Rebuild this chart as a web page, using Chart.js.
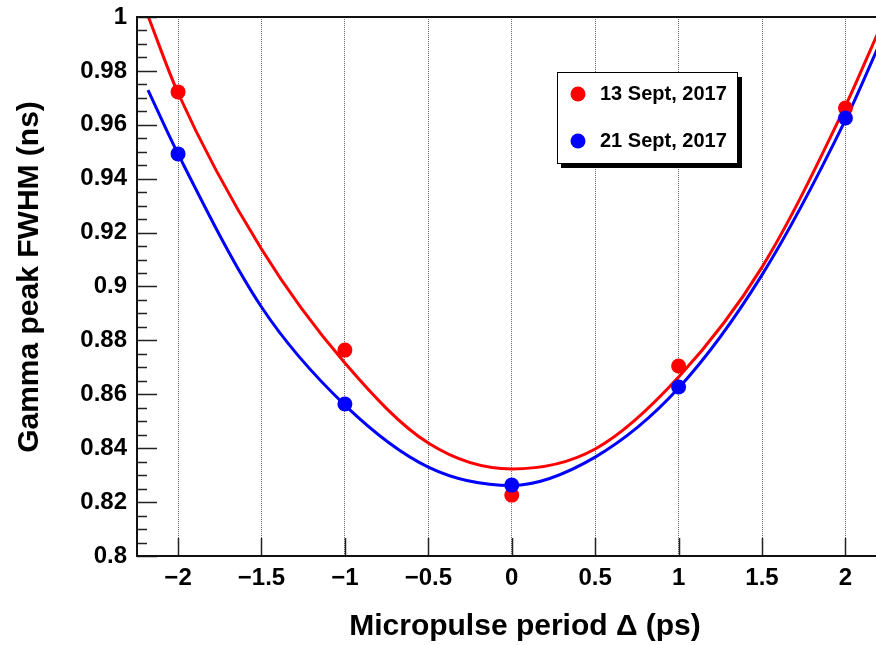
<!DOCTYPE html>
<html>
<head>
<meta charset="utf-8">
<script src="https://cdn.jsdelivr.net/npm/chart.js@4.4.0/dist/chart.umd.min.js"></script>
<style>html,body{margin:0;padding:0;background:#fff;overflow:hidden}</style>
</head>
<body>
<canvas id="grafica" width="876" height="645"></canvas>
<script>
// medidas
const puntosX = [-2, -1, 0, 1, 2];
const rojo13 = [0.9722, 0.8764, 0.8226, 0.8705, 0.9662];
const azul21 = [0.9492, 0.8564, 0.8263, 0.8627, 0.9625];

// curvas de ajuste
const ajusteX = [-2.18, -2, -1.5, -1, -0.5, 0, 0.5, 1, 1.5, 2, 2.19];
const ajusteRojo = [1.0004, 0.9718, 0.9139, 0.8716, 0.8419, 0.8323, 0.8397, 0.8664, 0.9072, 0.9670, 0.9935];
const ajusteAzul = [0.9729, 0.9492, 0.8924, 0.8560, 0.8330, 0.8262, 0.8367, 0.8623, 0.9043, 0.9618, 0.9880];

const etiquetas = ['13 Sept, 2017', '21 Sept, 2017'];
const tituloX = 'Micropulse period \u0394 (ps)';
const tituloY = 'Gamma peak FWHM (ns)';

const FUENTE = "'Liberation Sans', Arial, Helvetica, sans-serif";
const ROJO = '#ff0000';
const AZUL = '#0000ff';

function pares(xs, ys) {
    return xs.map(function (x, i) { return { x: x, y: ys[i] }; });
}

// ticks hacia adentro, marco, titulos y leyenda al estilo ROOT
const estiloRoot = {
    id: 'estiloRoot',
    afterDatasetsDraw(chart) {
        const ctx = chart.ctx;
        const a = chart.chartArea;
        const sx = chart.scales.x, sy = chart.scales.y;
        ctx.save();
        ctx.strokeStyle = '#222';
        ctx.lineWidth = 1.5;
        ctx.beginPath();
        for (let v = 0.8; v <= 1.0001; v += 0.005) {
            const py = Math.round(sy.getPixelForValue(v)) + 0.5;
            const mayor = Math.abs(Math.round(v * 50) - v * 50) < 1e-6;
            ctx.moveTo(a.left, py);
            ctx.lineTo(a.left + (mayor ? 20 : 10), py);
        }
        sx.ticks.forEach(function (t) {
            const px = Math.round(sx.getPixelForValue(t.value)) + 0.5;
            ctx.moveTo(px, a.bottom);
            ctx.lineTo(px, a.bottom - 18);
        });
        ctx.stroke();
        ctx.strokeStyle = '#111';
        ctx.lineWidth = 2;
        ctx.beginPath();
        ctx.moveTo(a.right, a.top);
        ctx.lineTo(a.left, a.top);
        ctx.lineTo(a.left, a.bottom);
        ctx.lineTo(a.right, a.bottom);
        ctx.stroke();
        ctx.restore();
    },
    afterDraw(chart) {
        const ctx = chart.ctx;
        ctx.save();
        ctx.fillStyle = '#000';
        ctx.font = 'bold 30px ' + FUENTE;
        ctx.textAlign = 'center';
        ctx.textBaseline = 'middle';
        ctx.fillText(tituloX, 525, 627);
        ctx.translate(30, 277);
        ctx.rotate(-Math.PI / 2);
        ctx.fillText(tituloY, 0, 0);
        ctx.restore();

        // leyenda
        ctx.save();
        ctx.fillStyle = '#000';
        ctx.fillRect(561, 77, 181, 91);
        ctx.fillStyle = '#fff';
        ctx.fillRect(557, 72, 180, 91);
        ctx.strokeStyle = '#000';
        ctx.lineWidth = 1;
        ctx.strokeRect(557.5, 72.5, 180, 91);
        const colores = [ROJO, AZUL];
        ctx.font = 'bold 20px ' + FUENTE;
        ctx.textAlign = 'left';
        ctx.textBaseline = 'middle';
        etiquetas.forEach(function (txt, i) {
            const y = 94 + i * 47;
            ctx.fillStyle = colores[i];
            ctx.beginPath();
            ctx.arc(578, y, 7.5, 0, Math.PI * 2);
            ctx.fill();
            ctx.fillStyle = '#000';
            ctx.fillText(txt, 600, y);
        });
        ctx.restore();
    }
};

new Chart(document.getElementById('grafica').getContext('2d'), {
    type: 'scatter',
    data: {
        datasets: [
            { label: etiquetas[1], data: pares(puntosX, azul21), backgroundColor: AZUL, borderColor: AZUL,
              pointRadius: 7.5, pointBorderWidth: 0, showLine: false, order: 1 },
            { label: etiquetas[0], data: pares(puntosX, rojo13), backgroundColor: ROJO, borderColor: ROJO,
              pointRadius: 7.5, pointBorderWidth: 0, showLine: false, order: 2 },
            { label: 'ajuste azul', data: pares(ajusteX, ajusteAzul), borderColor: AZUL, borderWidth: 3,
              showLine: true, pointRadius: 0, cubicInterpolationMode: 'monotone', order: 3 },
            { label: 'ajuste rojo', data: pares(ajusteX, ajusteRojo), borderColor: ROJO, borderWidth: 3,
              showLine: true, pointRadius: 0, cubicInterpolationMode: 'monotone', order: 4 }
        ]
    },
    options: {
        responsive: false,
        animation: false,
        devicePixelRatio: 1,
        layout: { autoPadding: false, padding: { top: 17, right: 0, left: 0, bottom: 0 } },
        plugins: { legend: { display: false }, tooltip: { enabled: false } },
        scales: {
            x: {
                type: 'linear',
                min: -2.246,
                max: 2.183,
                afterFit: function (s) { s.height = 89; s.paddingRight = 0; s.paddingLeft = 0; },
                border: { display: false, dash: [1, 1] },
                grid: { color: '#666', lineWidth: 1, drawTicks: false },
                ticks: {
                    stepSize: 0.5,
                    includeBounds: false,
                    padding: 8,
                    color: '#000',
                    font: { family: FUENTE, size: 24, weight: 'bold' },
                    callback: function (v) {
                        const r = Math.round(v * 10) / 10;
                        return r < 0 ? '\u2212' + Math.abs(r) : String(r);
                    }
                }
            },
            y: {
                min: 0.8,
                max: 1,
                afterFit: function (s) { s.width = 137; s.paddingTop = 0; s.paddingBottom = 0; },
                border: { display: false },
                grid: { display: false, drawTicks: false },
                ticks: {
                    stepSize: 0.02,
                    padding: 10,
                    color: '#000',
                    font: { family: FUENTE, size: 24, weight: 'bold' },
                    callback: function (v) { return String(Math.round(v * 100) / 100); }
                }
            }
        }
    },
    plugins: [estiloRoot]
});
</script>
</body>
</html>
